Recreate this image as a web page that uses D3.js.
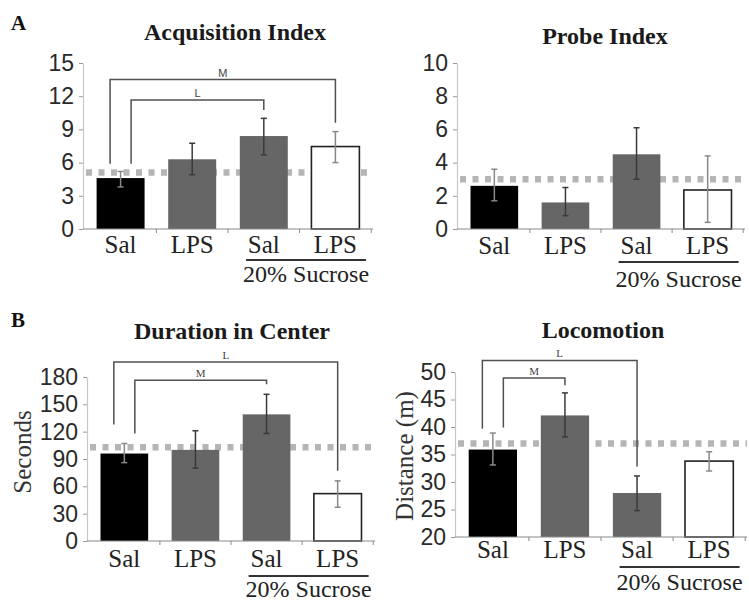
<!DOCTYPE html>
<html>
<head>
<meta charset="utf-8">
<script src="https://cdn.jsdelivr.net/npm/d3@7"></script>
<style>
  html, body { margin: 0; padding: 0; background: #fff; }
  svg { display: block; }
</style>
</head>
<body>
<svg id="chart" width="749" height="602"></svg>
<script>
// ---------- DATA ----------
const categories = ["Sal", "LPS", "Sal", "LPS"];
const groupLabel = "20% Sucrose";

const acqMean = [4.6, 6.3, 8.4, 7.45];
const acqLow  = [3.8, 4.9, 6.7, 6.0];
const acqHigh = [5.2, 7.75, 10.0, 8.8];
const acqRef  = 5.1;
const acqTicks = [0, 3, 6, 9, 12, 15];

const probeMean = [2.6, 1.6, 4.5, 2.35];
const probeLow  = [1.7, 0.8, 3.0, 0.4];
const probeHigh = [3.6, 2.5, 6.1, 4.4];
const probeRef  = 3.0;
const probeTicks = [0, 2, 4, 6, 8, 10];

const durMean = [96, 100, 139, 52];
const durLow  = [86, 80, 118, 37];
const durHigh = [107, 121, 161, 66];
const durRef  = 103;
const durTicks = [0, 30, 60, 90, 120, 150, 180];

const locoMean = [35.9, 42.1, 28.0, 33.8];
const locoLow  = [33.1, 38.2, 24.8, 32.0];
const locoHigh = [38.9, 46.2, 31.1, 35.5];
const locoRef  = 37;
const locoTicks = [20, 25, 30, 35, 40, 45, 50];

// significance brackets: from group, to group, top value, left/right leg end values
const acqBrackets = [
  {label: "M", from: 0, side: -1, to: 3, top: 13.5, leftEnd: 5.9, rightEnd: 9.6},
  {label: "L", from: 0, side: 1, to: 2, top: 11.65, leftEnd: 5.9, rightEnd: 10.75}
];
const durBrackets = [
  {label: "L", from: 0, side: -1, to: 3, top: 196.5, leftEnd: 128, rightEnd: 77},
  {label: "M", from: 0, side: 1, to: 2, top: 176.4, leftEnd: 118, rightEnd: 172}
];
const locoBrackets = [
  {label: "L", from: 0, side: -1, to: 2, top: 52.1, leftEnd: 39.7, rightEnd: 32.8},
  {label: "M", from: 0, side: 1, to: 1, top: 48.9, leftEnd: 39.9, rightEnd: 47.6}
];

// ---------- STYLE / LAYOUT ----------
const fills   = ["#000000", "#666666", "#666666", "#ffffff"];
const strokes = ["none", "none", "none", "#222222"];
const errCols = ["#888888", "#3a3a3a", "#3a3a3a", "#888888"];
const serif = "'Liberation Serif', 'Times New Roman', serif";
const sans  = "'Liberation Sans', Arial, sans-serif";

const panels = [
  {title: "Acquisition Index", tx: 235, ty: 40, x0: 83, x1: 373, yTop: 63, yBot: 229,
   domain: [0, 15], ticks: acqTicks, mean: acqMean, low: acqLow, high: acqHigh, ref: acqRef,
   brackets: acqBrackets, bFont: sans, catY: 253, lineY: 260, grpY: 282, letter: "A", ly: 30, yTitle: null},
  {title: "Probe Index", tx: 605, ty: 44, x0: 457, x1: 745, yTop: 63, yBot: 229,
   domain: [0, 10], ticks: probeTicks, mean: probeMean, low: probeLow, high: probeHigh, ref: probeRef,
   brackets: [], bFont: sans, catY: 254, lineY: 262, grpY: 287, letter: null, yTitle: null},
  {title: "Duration in Center", tx: 232, ty: 339, x0: 87, x1: 375, yTop: 377, yBot: 541,
   domain: [0, 180], ticks: durTicks, mean: durMean, low: durLow, high: durHigh, ref: durRef,
   brackets: durBrackets, bFont: serif, catY: 567, lineY: 576, grpY: 597, letter: "B", ly: 327,
   yTitle: "Seconds", ytx: 31, yty: 452},
  {title: "Locomotion", tx: 603, ty: 338, x0: 455, x1: 747, yTop: 372, yBot: 537,
   domain: [20, 50], ticks: locoTicks, mean: locoMean, low: locoLow, high: locoHigh, ref: locoRef,
   brackets: locoBrackets, bFont: serif, catY: 558, lineY: 567, grpY: 590, letter: null,
   yTitle: "Distance (m)", ytx: 413, yty: 456}
];

const svg = d3.select("#chart");

panels.forEach(p => {
  const g = svg.append("g");
  const y = d3.scaleLinear().domain(p.domain).range([p.yBot, p.yTop]);
  const x = d3.scaleBand().domain(d3.range(categories.length))
    .range([p.x0, p.x1]).paddingInner(0.33).paddingOuter(0.19);
  const bw = x.bandwidth();
  const cx = i => x(i) + bw / 2;

  // letter
  if (p.letter) {
    g.append("text").attr("x", 11).attr("y", p.ly)
      .attr("font-family", serif).attr("font-weight", "bold").attr("font-size", 21)
      .attr("fill", "#111").text(p.letter);
  }
  // title
  g.append("text").attr("x", p.tx).attr("y", p.ty).attr("text-anchor", "middle")
    .attr("font-family", serif).attr("font-weight", "bold").attr("font-size", 24)
    .attr("fill", "#1a1a1a").text(p.title);

  // y axis
  const yAxis = d3.axisLeft(y).tickValues(p.ticks).tickSizeInner(4).tickSizeOuter(0).tickPadding(5);
  const ya = g.append("g").attr("transform", `translate(${p.x0},0)`).call(yAxis);
  ya.select(".domain").attr("stroke", "#c8c8c8").attr("stroke-width", 1.2);
  ya.selectAll(".tick line").attr("stroke", "#9a9a9a");
  ya.selectAll(".tick text").attr("font-family", sans).attr("font-size", 23)
    .attr("fill", "#2a2a2a");

  // y title
  if (p.yTitle) {
    g.append("text").attr("transform", `translate(${p.ytx},${p.yty}) rotate(-90)`)
      .attr("text-anchor", "middle").attr("font-family", serif).attr("font-size", 25)
      .attr("fill", "#333").text(p.yTitle);
  }

  // reference dashed line (behind bars)
  g.append("line").attr("x1", p.x0 + 3).attr("x2", p.x1)
    .attr("y1", y(p.ref)).attr("y2", y(p.ref))
    .attr("stroke", "#b5b5b5").attr("stroke-width", 6.5).attr("stroke-dasharray", "6,6.5");

  // bars
  g.selectAll("rect.bar").data(p.mean).enter().append("rect")
    .attr("x", (d, i) => x(i)).attr("width", bw)
    .attr("y", d => y(d)).attr("height", d => p.yBot - y(d))
    .attr("fill", (d, i) => fills[i])
    .attr("stroke", (d, i) => strokes[i]).attr("stroke-width", 1.6);

  // x axis
  g.append("line").attr("x1", p.x0).attr("x2", p.x1).attr("y1", p.yBot).attr("y2", p.yBot)
    .attr("stroke", "#8a8a8a").attr("stroke-width", 1.2);
  const bounds = d3.range(1, categories.length + 1).map(i => x(i - 1) + bw + x.step() * 0.33 / 2);
  g.selectAll("line.xt").data(bounds).enter().append("line")
    .attr("x1", d => Math.min(d, p.x1)).attr("x2", d => Math.min(d, p.x1))
    .attr("y1", p.yBot).attr("y2", p.yBot + 4).attr("stroke", "#8a8a8a");

  // error bars
  const cap = 3;
  p.mean.forEach((m, i) => {
    const c = cx(i);
    g.append("line").attr("x1", c).attr("x2", c).attr("y1", y(p.low[i])).attr("y2", y(p.high[i]))
      .attr("stroke", errCols[i]).attr("stroke-width", 1.5);
    [p.low[i], p.high[i]].forEach(v => {
      g.append("line").attr("x1", c - cap).attr("x2", c + cap).attr("y1", y(v)).attr("y2", y(v))
        .attr("stroke", errCols[i]).attr("stroke-width", 1.5);
    });
  });

  // brackets
  p.brackets.forEach(b => {
    const xl = cx(b.from) + b.side * 10.5;
    const xr = cx(b.to);
    g.append("path")
      .attr("d", `M${xl},${y(b.leftEnd)}V${y(b.top)}H${xr}V${y(b.rightEnd)}`)
      .attr("fill", "none").attr("stroke", "#505050").attr("stroke-width", 1.5);
    g.append("text").attr("x", (xl + xr) / 2).attr("y", y(b.top) - 3)
      .attr("text-anchor", "middle").attr("font-family", p.bFont).attr("font-size", 11)
      .attr("fill", "#444").text(b.label);
  });

  // category labels
  g.selectAll("text.cat").data(categories).enter().append("text")
    .attr("x", (d, i) => cx(i)).attr("y", p.catY).attr("text-anchor", "middle")
    .attr("font-family", serif).attr("font-size", 25).attr("fill", "#222").text(d => d);

  // group underline + label
  const gc = (cx(2) + cx(3)) / 2 + 6.5;
  g.append("line").attr("x1", gc - 60).attr("x2", gc + 60).attr("y1", p.lineY).attr("y2", p.lineY)
    .attr("stroke", "#333").attr("stroke-width", 2);
  g.append("text").attr("x", gc).attr("y", p.grpY).attr("text-anchor", "middle")
    .attr("font-family", serif).attr("font-size", 24).attr("fill", "#222").text(groupLabel);
});
</script>
</body>
</html>
